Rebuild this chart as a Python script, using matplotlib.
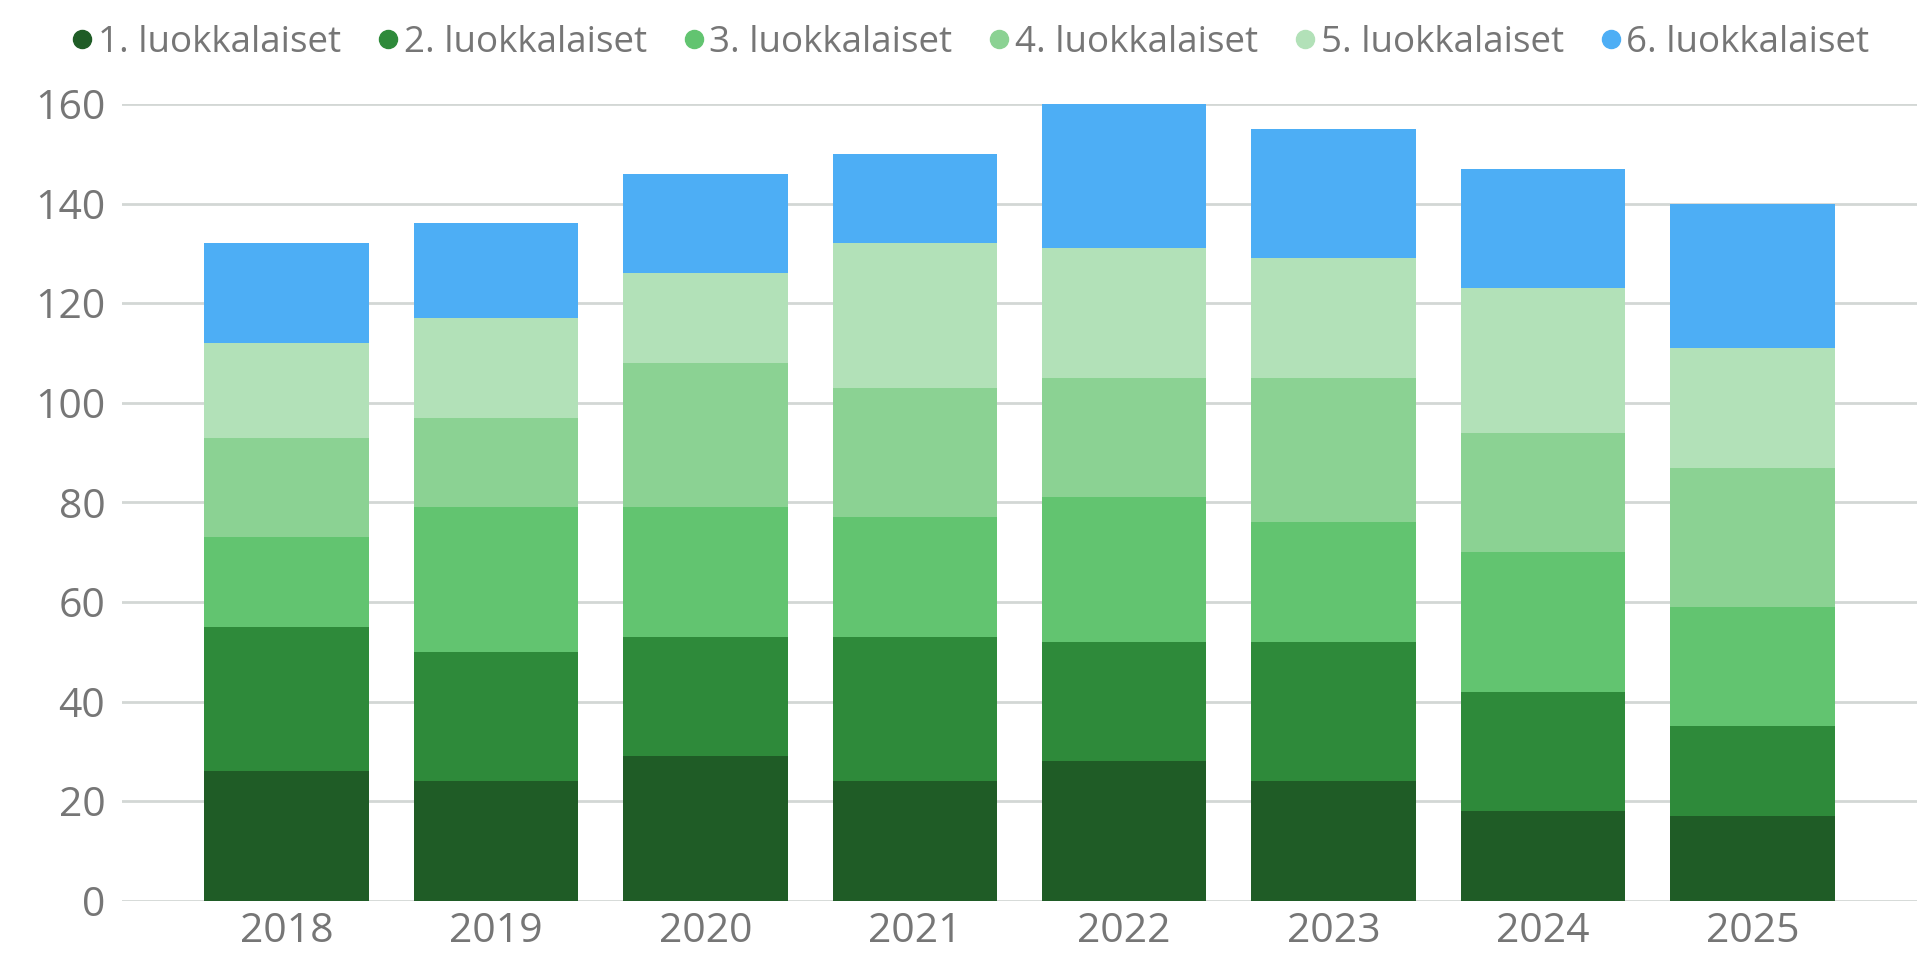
import matplotlib
matplotlib.use("Agg")
import matplotlib.pyplot as plt
from matplotlib.lines import Line2D
import numpy as np

# Oppilasmäärät luokka-asteittain vuosittain
vuodet = ["2018", "2019", "2020", "2021", "2022", "2023", "2024", "2025"]
luokat = ["1. luokkalaiset", "2. luokkalaiset", "3. luokkalaiset",
          "4. luokkalaiset", "5. luokkalaiset", "6. luokkalaiset"]
luokka1 = [26, 24, 29, 24, 28, 24, 18, 17]
luokka2 = [29, 26, 24, 29, 24, 28, 24, 18]
luokka3 = [18, 29, 26, 24, 29, 24, 28, 24]
luokka4 = [20, 18, 29, 26, 24, 29, 24, 28]
luokka5 = [19, 20, 18, 29, 26, 24, 29, 24]
luokka6 = [20, 19, 20, 18, 29, 26, 24, 29]
sarjat = [luokka1, luokka2, luokka3, luokka4, luokka5, luokka6]

varit = ["#1f5c26", "#2e8a3a", "#62c470", "#8bd293", "#b2e1b8", "#4daef5"]
tekstin_vari = "#767676"

plt.rcParams["font.family"] = ["Open Sans", "DejaVu Sans"]

fig = plt.figure(figsize=(19.17, 9.61), dpi=100)
ax = fig.add_axes([0.0636, 0.0627, 0.9364, 0.8291])

x = np.arange(len(vuodet))
pohja = np.zeros(len(vuodet))
for nimi, arvot, vari in zip(luokat, sarjat, varit):
    ax.bar(x, arvot, bottom=pohja, width=0.785, color=vari, label=nimi, zorder=2)
    pohja += np.array(arvot)

ax.set_ylim(0, 160)
ax.set_yticks(range(0, 161, 20))
ax.set_xlim(-0.786, 7.786)
ax.set_xticks(x)
ax.set_xticklabels(vuodet)

ax.grid(axis="y", color="#d3d7d5", linewidth=2, zorder=0)
for s in ax.spines.values():
    s.set_visible(False)
ax.tick_params(axis="both", length=0, labelsize=29.5, labelcolor=tekstin_vari)
ax.tick_params(axis="y", pad=12)
ax.tick_params(axis="x", pad=8)

# Selite pallomerkeillä kuvan yläreunaan
kahvat = [Line2D([], [], marker="o", linestyle="none", markersize=13,
                 markerfacecolor=v, markeredgecolor=v) for v in varit]
fig.legend(kahvat, luokat, loc="center", bbox_to_anchor=(0.5055, 0.955), ncol=6,
           frameon=False, fontsize=26.5, labelcolor=tekstin_vari,
           handletextpad=0.05, columnspacing=0.9, handlelength=0.75)

fig.savefig("out.png", dpi=100)
